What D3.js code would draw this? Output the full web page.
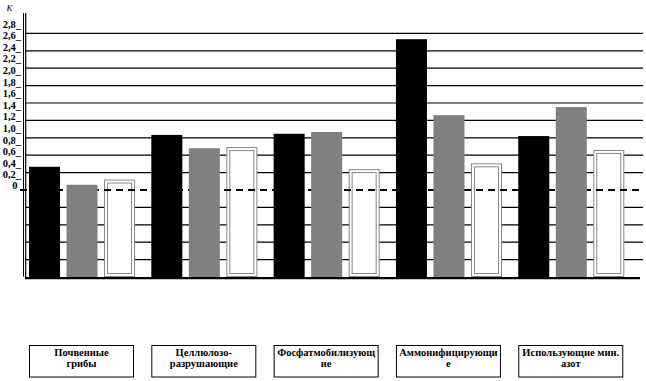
<!DOCTYPE html>
<html><head><meta charset="utf-8">
<script src="https://cdn.jsdelivr.net/npm/d3@7"></script>
<style>body{margin:0;background:#fff}svg{display:block}</style>
</head><body>
<script>
const categories = [["Почвенные","грибы"],["Целлюлозо-","разрушающие"],["Фосфатмобилизующ","ие"],["Аммонифицирующи","е"],["Использующие мин.","азот"]];
const seriesNames = ["s1","s2","s3"];
const s1 = [0.40, 0.95, 0.97, 2.60, 0.93];
const s2 = [0.09, 0.72, 1.00, 1.29, 1.43];
const s3 = [0.18, 0.74, 0.36, 0.46, 0.69];
const tickValues = [2.8,2.6,2.4,2.2,2.0,1.8,1.6,1.4,1.2,1.0,0.8,0.6,0.4,0.2,0];
const gridValues = [2.7,2.4,2.1,1.8,1.5,1.2,0.9,0.6,0.3,-0.3,-0.6,-0.9,-1.2];
const yMin = -1.5, yAxisTop = 3.05;
const FONT = "Liberation Serif";

const W = 646, H = 381;
const svg = d3.select("body").append("svg").attr("width", W).attr("height", H);
const y = d3.scaleLinear().domain([-1.5, 2.8]).range([277, 27.6]);
const x0 = d3.scaleBand().domain(d3.range(categories.length)).range([29, 624.3]).paddingInner(0.133).paddingOuter(0);
const x1 = d3.scaleBand().domain(seriesNames).range([0, x0.bandwidth()]).paddingInner(0.173).paddingOuter(0);
const data = categories.map((c, i) => ({i, vals: [s1[i], s2[i], s3[i]]}));

svg.append("g").selectAll("line").data(gridValues).join("line")
  .attr("x1", 26).attr("x2", 643).attr("y1", d => y(d)).attr("y2", d => y(d))
  .attr("stroke", "#000").attr("stroke-width", 1.2);

const wb = svg.append("g").selectAll("g").data(data).join("g")
  .attr("transform", d => `translate(${x0(d.i)},0)`);
wb.append("rect").attr("x", x1("s3") + 0.5).attr("y", d => y(d.vals[2]) + 0.5)
  .attr("width", x1.bandwidth() - 1).attr("height", d => y(yMin) - y(d.vals[2]) - 1)
  .attr("fill", "#fff").attr("stroke", "#888").attr("stroke-width", 1);
wb.append("rect").attr("x", x1("s3") + 3.5).attr("y", d => y(d.vals[2]) + 3.5)
  .attr("width", x1.bandwidth() - 7).attr("height", d => y(yMin) - y(d.vals[2]) - 7)
  .attr("fill", "#fff").attr("stroke", "#888").attr("stroke-width", 1);

svg.append("line").attr("x1", 20).attr("x2", 641).attr("y1", y(0)).attr("y2", y(0))
  .attr("stroke", "#000").attr("stroke-width", 2).attr("stroke-dasharray", "7,5");

const g = svg.append("g").selectAll("g").data(data).join("g")
  .attr("transform", d => `translate(${x0(d.i)},0)`);
g.append("rect").attr("x", x1("s1")).attr("y", d => y(d.vals[0]))
  .attr("width", x1.bandwidth()).attr("height", d => y(yMin) - y(d.vals[0])).attr("fill", "#000");
g.append("rect").attr("x", x1("s2")).attr("y", d => y(d.vals[1]))
  .attr("width", x1.bandwidth()).attr("height", d => y(yMin) - y(d.vals[1])).attr("fill", "#808080");

svg.append("line").attr("x1", 23.5).attr("x2", 23.5).attr("y1", y(yAxisTop)).attr("y2", 276.5).attr("stroke", "#000").attr("stroke-width", 1);
svg.append("line").attr("x1", 25.7).attr("x2", 25.7).attr("y1", y(yAxisTop)).attr("y2", 279).attr("stroke", "#000").attr("stroke-width", 1.2);
svg.append("line").attr("x1", 25).attr("x2", 640).attr("y1", 278.2).attr("y2", 278.2).attr("stroke", "#000").attr("stroke-width", 2.2);

svg.append("g").selectAll("text").data(tickValues).join("text")
  .attr("x", d => d === 0 ? 17.5 : 21).attr("y", d => d === 0 ? y(d) - 1 : y(d))
  .attr("text-anchor", "end").attr("font-family", FONT).attr("font-weight", "bold")
  .attr("font-size", 10.5)
  .text(d => d === 0 ? "0" : d.toFixed(1).replace(".", ",") + "_");

svg.append("text").attr("x", 6.5).attr("y", 11).attr("font-family", FONT)
  .attr("font-style", "italic").attr("font-size", 9).text("К");

const box = svg.append("g").selectAll("g").data(categories).join("g")
  .attr("transform", (d, i) => `translate(${x0(i)},0)`);
box.append("rect").attr("x", 0.5).attr("y", 345.5).attr("width", 104).attr("height", 31.5)
  .attr("fill", "none").attr("stroke", "#000").attr("stroke-width", 1);
box.each(function(d) {
  const t = d3.select(this);
  d.forEach((line, k) => {
    const txt = t.append("text").attr("x", 52.5).attr("y", 356 + k * 11)
      .attr("text-anchor", "middle").attr("font-family", FONT)
      .attr("font-weight", "bold").attr("font-size", 10.5).text(line);
    const w = txt.node().getComputedTextLength();
    if (w > 102) txt.attr("textLength", 102).attr("lengthAdjust", "spacingAndGlyphs");
  });
});
</script>
</body></html>
